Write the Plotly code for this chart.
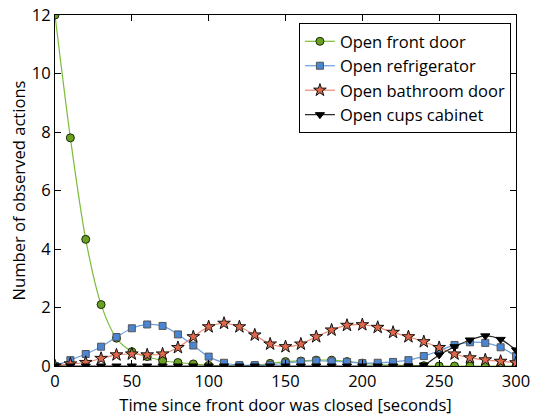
import plotly.graph_objects as go

time_s = list(range(0, 301, 10))
front_door = [12.0, 7.8, 4.33, 2.1, 0.95, 0.49, 0.32, 0.18, 0.12, 0.07, 0.02, 0.0, 0.0, 0.01, 0.09, 0.15,
              0.17, 0.2, 0.2, 0.15, 0.1, 0.05, 0.03, 0.02, 0.01, 0.0, 0.0, 0.0, 0.0, 0.0, 0.0]
refrigerator = [0.0, 0.2, 0.41, 0.66, 0.99, 1.29, 1.42, 1.37, 1.08, 0.7, 0.32, 0.11, 0.03, 0.03, 0.04, 0.1,
                0.15, 0.18, 0.16, 0.14, 0.1, 0.11, 0.14, 0.2, 0.34, 0.52, 0.72, 0.81, 0.79, 0.64, 0.34]
bathroom = [0.0, 0.07, 0.12, 0.26, 0.38, 0.41, 0.38, 0.41, 0.63, 1.0, 1.34, 1.46, 1.34, 1.06, 0.75, 0.66,
            0.75, 1.0, 1.23, 1.39, 1.41, 1.32, 1.15, 1.0, 0.83, 0.63, 0.41, 0.28, 0.21, 0.16, 0.11]
cups = [0.0, 0.0, 0.0, 0.0, 0.0, 0.0, 0.0, 0.0, 0.0, 0.0, 0.0, 0.0, 0.0, 0.0, 0.0, 0.0,
        0.0, 0.0, 0.0, 0.0, 0.0, 0.0, 0.0, 0.0, 0.03, 0.38, 0.66, 0.89, 1.03, 0.91, 0.55]

names = ["Open front door", "Open refrigerator", "Open bathroom door", "Open cups cabinet"]
x_title = "Time since front door was closed [seconds]"
y_title = "Number of observed actions"

FONT = "Open Sans, DejaVu Sans, sans-serif"

series = [
    (names[0], front_door, "circle", "#6aa121", "#7dbb3a", 8, "#1a2a0a"),
    (names[1], refrigerator, "square", "#4a86d4", "#6aa0e0", 7, "#555555"),
    (names[2], bathroom, "star", "#e0684a", "#e88870", 9.5, "#111111"),
    (names[3], cups, "triangle-down", "#000000", "#222222", 8, "#000000"),
]

fig = go.Figure()
for name, ys, sym, mcol, lcol, size, edge in series:
    fig.add_trace(go.Scatter(
        x=time_s, y=ys, name=name, mode="lines+markers",
        line=dict(color=lcol, width=1.2, shape="spline", smoothing=0.8),
        marker=dict(symbol=sym, size=size, color=mcol, line=dict(color=edge, width=1)),
    ))

axis_common = dict(
    showgrid=False, zeroline=False, showline=True, linecolor="black", linewidth=1.2,
    mirror="ticks", ticks="inside", ticklen=6, tickcolor="black", automargin=False,
    tickfont=dict(family=FONT, size=16.5, color="black"),
)

fig.update_layout(
    width=536, height=416,
    margin=dict(l=55, r=20, t=15, b=50),
    plot_bgcolor="white", paper_bgcolor="white",
    font=dict(family=FONT, size=16, color="black"),
    xaxis=dict(range=[0, 300], dtick=50, tick0=0,
               title=dict(text=x_title, font=dict(family=FONT, size=16.6)),
               **axis_common),
    yaxis=dict(range=[0, 12], dtick=2, tick0=0, **axis_common),
    legend=dict(x=0.989, y=0.977, xanchor="right", yanchor="top",
                bordercolor="black", borderwidth=1, bgcolor="white",
                font=dict(family=FONT, size=16.5), tracegroupgap=0, itemwidth=30),
    showlegend=True,
    annotations=[dict(text=y_title, xref="paper", yref="paper", x=0, y=0.5,
                      xanchor="center", yanchor="middle", xshift=-37, textangle=-90,
                      showarrow=False, font=dict(family=FONT, size=16.6, color="black"))],
)

fig.write_html("out.html", post_script="document.body.style.margin='0';",
               config={"displayModeBar": False})
